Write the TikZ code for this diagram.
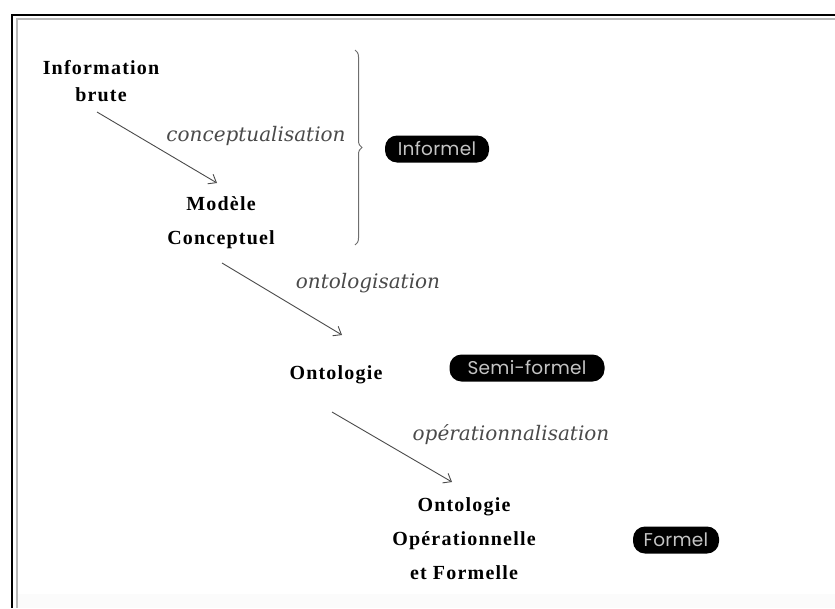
\documentclass[tikz,border=0pt]{standalone}
\usepackage{fontspec}
\setmainfont{Liberation Serif}
\newfontfamily\stagefont[LetterSpace=6]{Liberation Serif}
\newfontfamily\stepfont{DejaVu Serif}
\newfontfamily\tagfont[LetterSpace=1.5]{Poppins}
\usetikzlibrary{arrows.meta,calc,decorations.pathreplacing}
\definecolor{framegray}{HTML}{B8B8B8}
\definecolor{stepgray}{HTML}{4A4A4A}
\definecolor{tagtext}{HTML}{C4C4C4}
\tikzset{
  stage/.style={align=center, inner sep=0pt,
    font=\stagefont\bfseries\fontsize{20}{34}\selectfont},
  steplabel/.style={inner sep=0pt, text=stepgray,
    font=\stepfont\itshape\fontsize{20}{22}\selectfont},
  flow/.style={draw=stepgray, line width=0.9pt,
    -{Straight Barb[length=7pt,width=11pt]}},
  levelbox/.style={fill=black, text=tagtext, rounded corners=12pt,
    inner sep=0pt, minimum height=27pt,
    font=\tagfont\fontsize{18.5}{20}\selectfont},
}
\begin{document}
\begin{tikzpicture}[x=1pt,y=-1pt]
\useasboundingbox (0,0) rectangle (835,608);
% page frame: dark outer line and grey inner line, open at right and bottom
\fill[gray!3] (17,594) rectangle (835,608);
\draw[black, line width=2.6pt] (12,608) -- (12,15) -- (835,15);
\draw[framegray, line width=2pt] (16.5,608) -- (16.5,19) -- (835,19);

% stages
\node[stage, font=\stagefont\bfseries\fontsize{20}{27}\selectfont] (info) at (101,81) {Information\\brute};
\node[stage] (modele) at (221,223) {Modèle\\Conceptuel};
\node[stage] (onto) at (336,375) {Ontologie};
\node[stage] (ontoop) at (464,539) {Ontologie\\Opérationnelle\\et Formelle};

% transitions
\draw[flow] ($(info.center)+(-4,31)$) -- ($(modele.center)+(-4,-40)$);
\draw[flow] ($(modele.center)+(1,40)$) -- ($(onto.center)+(6,-40)$);
\draw[flow] ($(onto.center)+(-4,37)$) -- ($(ontoop.center)+(-12,-57)$);

\node[steplabel] (lconc) at (256,136) {conceptualisation};
\node[steplabel] (lonto) at (368,283) {ontologisation};
\node[steplabel] (lop) at (511,435) {opérationnalisation};

% formality levels
\coordinate (braceTop) at (355,50);
\coordinate (braceBot) at (355,245);
\draw[stepgray!80, line width=1pt, decorate,
  decoration={brace, amplitude=7pt}] (braceTop) -- (braceBot);

\node[levelbox, minimum width=104pt] (informel) at (437,149) {Informel};
\node[levelbox, minimum width=155pt] (semi) at (527,368) {Semi-formel};
\node[levelbox, minimum width=86pt] (formel) at (676,540) {Formel};
\end{tikzpicture}
\end{document}
